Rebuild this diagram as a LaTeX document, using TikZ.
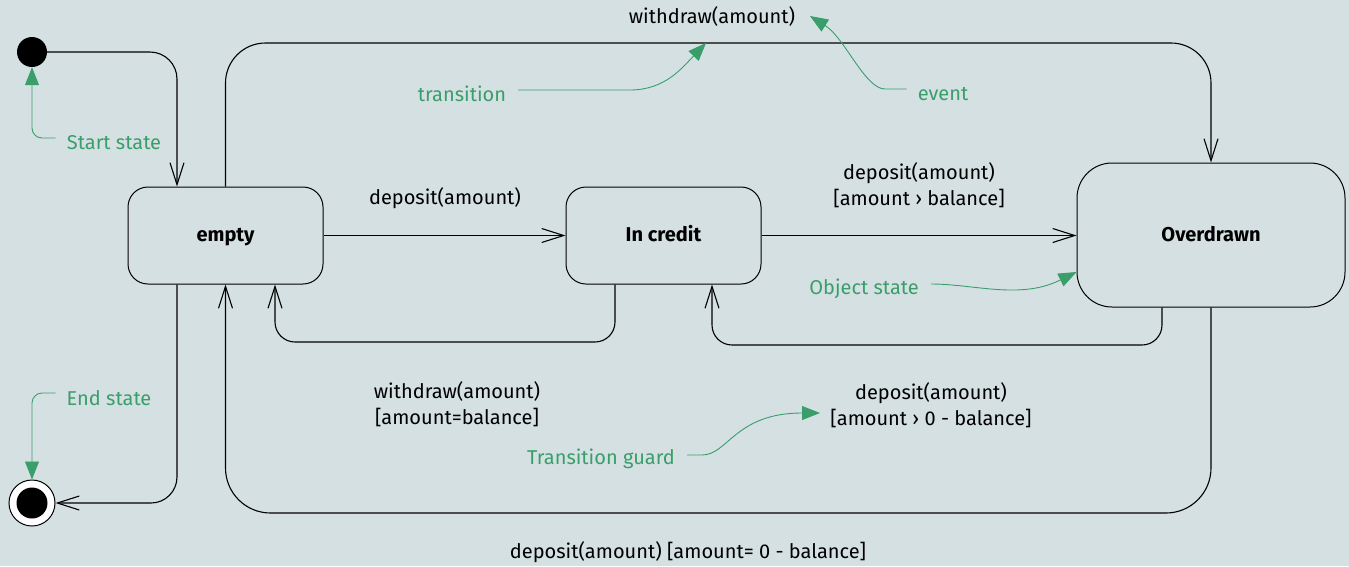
\documentclass[tikz,border=0pt]{standalone}
\usepackage{fontspec}
\setmainfont{Fira Sans}
\usetikzlibrary{arrows.meta,calc}
\definecolor{bg}{HTML}{D5E0E3}
\definecolor{note}{HTML}{3A9E6A}
\begin{document}
\begin{tikzpicture}[x=1pt,y=-1pt,
  every node/.style={font=\fontsize{20}{26}\selectfont},
  statebox/.style={draw,line width=1pt,rounded corners=20pt,fill=bg,text height=15pt,text depth=3pt,font=\fontsize{20}{26}\selectfont\bfseries},
  flow/.style={line width=1.1pt,-{Straight Barb[length=22pt,width=14pt,line width=1.1pt]}},
  txt/.style={align=center,inner sep=0pt},
  hint/.style={inner sep=0pt,text=note},
  pointer/.style={draw=note,line width=0.9pt,-{Triangle[length=18pt,width=14pt]}}]
  % canvas
  \fill[bg] (0,0) rectangle (1349,566);
  \useasboundingbox (0,0) rectangle (1349,566);

  % states
  \node[circle,fill=black,minimum size=30pt,inner sep=0pt] (start) at (32,52) {};
  \node[circle,draw,line width=1pt,fill=white,minimum size=46pt,inner sep=0pt] (fin) at (32,503) {};
  \node[circle,fill=black,minimum size=31pt,inner sep=0pt] (fincore) at (fin) {};
  \node[statebox,minimum width=195pt,minimum height=97pt] (empty) at (225.5,235.5) {empty};
  \node[statebox,minimum width=195pt,minimum height=97pt] (credit) at (663.5,235.5) {In credit};
  \node[statebox,rounded corners=35pt,minimum width=268pt,minimum height=144pt] (over) at (1211,235) {Overdrawn};

  % transitions
  \draw[flow,rounded corners=27pt] (start.east) -| ([xshift=-48.5pt]empty.north);
  \draw[flow] (empty.east) -- (credit.west);
  \draw[flow] (credit.east) -- (over.west |- credit.east);
  \draw[flow,rounded corners=40pt] (empty.north) |- (700,43) -| (over.north);
  \draw[flow,rounded corners=20pt] ([xshift=-48.5pt]credit.south) |- (450,342) -| ([xshift=49.5pt]empty.south);
  \draw[flow,rounded corners=20pt] ([xshift=-49pt]over.south) |- (900,345) -| ([xshift=48.5pt]credit.south);
  \draw[flow,rounded corners=45pt] (over.south) |- (700,513) -| (empty.south);
  \draw[flow,rounded corners=26pt] ([xshift=-48.5pt]empty.south) |- (fin.east);

  % transition labels
  \node[txt] (lwtop) at (712,16) {withdraw(amount)};
  \node[txt] (ldep) at (445,198) {deposit(amount)};
  \node[txt] (ldepover) at (919,185) {deposit(amount)\\{}[amount › balance]};
  \node[txt] (lwbal) at (457,404) {withdraw(amount)\\{}[amount=balance]};
  \node[txt] (ldepback) at (931,405) {deposit(amount)\\{}[amount › 0 - balance]};
  \node[txt] (ldepzero) at (688,552) {deposit(amount) [amount= 0 - balance]};

  % annotations
  \node[hint] (hstart) at (114,143) {Start state};
  \node[hint] (hend) at (109,398) {End state};
  \node[hint] (htrans) at (462,94) {transition};
  \node[hint] (hevent) at (943,94) {event};
  \node[hint] (hobj) at (864,289) {Object state};
  \node[hint] (hguard) at (601,459) {Transition guard};
  \coordinate (ttrans) at (706,43);
  \coordinate (tevent) at (810,16);
  \coordinate (tobj) at (over.west |- 0,272);
  \coordinate (tguard) at (820,413);

  \draw[pointer,rounded corners=10pt] ([xshift=-11pt,yshift=5pt]hstart.west) -| (start.south);
  \draw[pointer,rounded corners=10pt] ([xshift=-11pt,yshift=5pt]hend.west) -| (fin.north);
  \draw[pointer] ([xshift=12pt,yshift=4pt]htrans.east) -- (630,90) .. controls (665,90) and (682,68) .. (ttrans);
  \draw[pointer] ([xshift=-11pt,yshift=5pt]hevent.west) -- (885,89) .. controls (865,89) and (845,38) .. (tevent);
  \draw[pointer] ([xshift=12pt,yshift=5pt]hobj.east) .. controls (975,284) and (1020,300) .. (tobj);
  \draw[pointer] ([xshift=12pt,yshift=4pt]hguard.east) -- (702,455) .. controls (728,455) and (735,413) .. (tguard);
\end{tikzpicture}
\end{document}
